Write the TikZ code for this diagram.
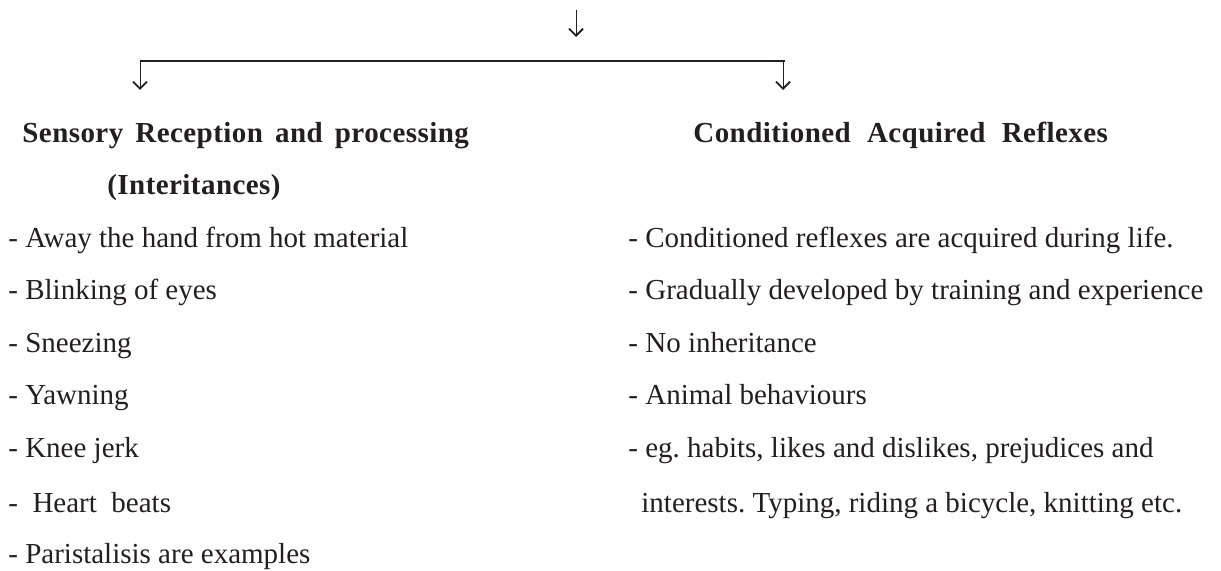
\documentclass[tikz,border=0pt]{standalone}
\usepackage{fontspec}
\setmainfont{Liberation Serif}
\usetikzlibrary{arrows.meta}

\definecolor{ink}{RGB}{35,31,32}
\newcommand{\headfont}[1]{\fontsize{14.5}{17}\selectfont\bfseries\addfontfeature{LetterSpace=1.5}\spaceskip=#1\relax}

\begin{document}
\begin{tikzpicture}[x=0.5pt,y=-0.5pt,ink,
		vect/.style={->,line width=0.5pt,>={Straight Barb[length=3.5pt,width=7pt,line width=0.9pt]}},
		bar/.style={line width=1pt},
		head/.style={anchor=base west,inner sep=0pt,font={\headfont{.42em}}},
		item/.style={anchor=base west,inner sep=0pt,font={\fontsize{14.5}{17}\selectfont\frenchspacing}}]
		\useasboundingbox (0,0) rectangle (1221,571);% page size

		\coordinate (top) at (576,10);
		\coordinate (topTip) at (576,37);
		\coordinate (barL) at (140,61);
		\coordinate (barR) at (785,61);
		\coordinate (leftTip) at (140,90);
		\coordinate (rightTip) at (783,90);

		\draw[vect] (top) -- (topTip);
		\draw[bar] (barL) -- (barR);
		\draw[vect] (barL) -- (leftTip);
		\draw[vect] (rightTip |- barR) -- (rightTip);

		% left branch
		\node[head] (sensory) at (22,143) {Sensory Reception and processing};
		\node[head] (inherit) at (107,195) {(Interitances)};
		\node[item] (away) at (8,248) {- Away the hand from hot material};
		\node[item] (blink) at (8,300) {- Blinking of eyes};
		\node[item] (sneeze) at (8,353) {- Sneezing};
		\node[item] (yawn) at (8,405) {- Yawning};
		\node[item] (knee) at (8,458) {- Knee jerk};
		\node[item] (heart) at (8,512) {-~ Heart~ beats};
		\node[item] (peri) at (8,563) {- Paristalisis are examples};

		% right branch
		\node[head,font={\headfont{.56em}}] (cond) at (693,143) {Conditioned Acquired Reflexes};
		\node[item] (life) at (628,248) {- Conditioned reflexes are acquired during life.};
		\node[item] (train) at (628,300) {- Gradually developed by training and experience};
		\node[item] (noinh) at (628,353) {- No inheritance};
		\node[item] (animal) at (628,405) {- Animal behaviours};
		\node[item] (habits) at (628,458) {- eg. habits, likes and dislikes, prejudices and};
		\node[item] (typing) at (641,512) {interests. Typing, riding a bicycle, knitting etc.};
	\end{tikzpicture}
\end{document}
